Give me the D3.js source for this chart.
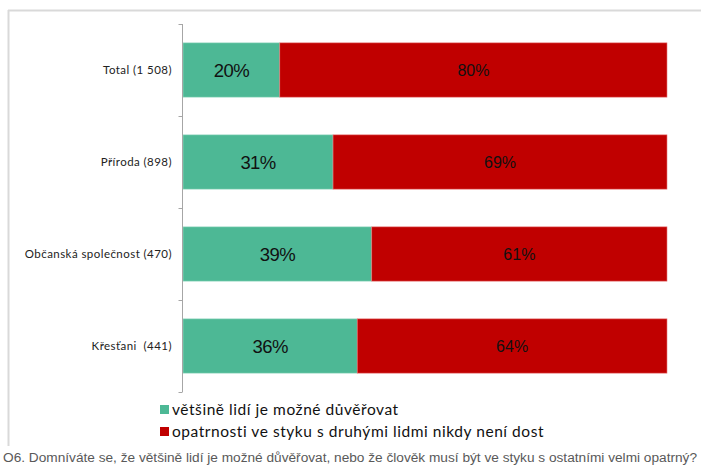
<!DOCTYPE html>
<html>
<head>
<meta charset="utf-8">
<script src="https://cdn.jsdelivr.net/npm/d3@7"></script>
<style>
  body { margin: 0; background: #fff; }
  svg { display: block; }
</style>
</head>
<body>
<div class="chart_box"></div>
<script>
var categories = ["Total (1 508)", "Příroda (898)", "Občanská společnost (470)", "Křesťani  (441)"];
var trustValues = [20, 31, 39, 36];
var cautionValues = [80, 69, 61, 64];
var seriesNames = ["většině lidí je možné důvěřovat", "opatrnosti ve styku s druhými lidmi nikdy není dost"];
var seriesColors = ["#4db895", "#c00000"];
var footnote = "O6. Domníváte se, že většině lidí je možné důvěřovat, nebo že člověk musí být ve styku s ostatními velmi opatrný?";

var width = 701, height = 469;
var svg = d3.select(".chart_box").append("svg")
  .attr("width", width)
  .attr("height", height);

// frame
svg.append("line").attr("x1", 8).attr("x2", width).attr("y1", 10.5).attr("y2", 10.5)
  .style("stroke", "#d9d9d9").style("stroke-width", 2);
svg.append("line").attr("x1", 8.5).attr("x2", 8.5).attr("y1", 10).attr("y2", 446)
  .style("stroke", "#d9d9d9").style("stroke-width", 2);

var x = d3.scaleLinear().domain([0, 100]).range([183, 667]);
var y = d3.scaleBand().domain(categories).range([24, 392]).paddingInner(0.41).paddingOuter(0.205);

var rows = categories.map(function(c, i) {
  return { cat: c, trust: trustValues[i], caution: cautionValues[i] };
});

var g = svg.append("g");

// green segments
g.selectAll(".trust").data(rows).enter().append("rect")
  .attr("class", "trust")
  .attr("x", x(0))
  .attr("y", function(d) { return y(d.cat); })
  .attr("width", function(d) { return x(d.trust) - x(0); })
  .attr("height", y.bandwidth())
  .attr("fill", seriesColors[0])
  .style("stroke", "#9fdcc6").style("stroke-width", 0.6);

// red segments
g.selectAll(".caution").data(rows).enter().append("rect")
  .attr("class", "caution")
  .attr("x", function(d) { return x(d.trust); })
  .attr("y", function(d) { return y(d.cat); })
  .attr("width", function(d) { return x(d.trust + d.caution) - x(d.trust); })
  .attr("height", y.bandwidth())
  .attr("fill", seriesColors[1])
  .style("stroke", "#e87878").style("stroke-width", 0.6);

// value labels
g.selectAll(".trustLabel").data(rows).enter().append("text")
  .attr("x", function(d) { return (x(0) + x(d.trust)) / 2; })
  .attr("y", function(d) { return y(d.cat) + y.bandwidth() / 2; })
  .attr("dy", "0.36em")
  .attr("text-anchor", "middle")
  .style("font-family", "Liberation Sans, Arial, sans-serif")
  .style("font-size", "18.5px")
  .style("letter-spacing", "-0.6px")
  .attr("fill", "#111")
  .text(function(d) { return d.trust + "%"; });

g.selectAll(".cautionLabel").data(rows).enter().append("text")
  .attr("x", function(d) { return (x(d.trust) + x(d.trust + d.caution)) / 2; })
  .attr("y", function(d) { return y(d.cat) + y.bandwidth() / 2; })
  .attr("dy", "0.36em")
  .attr("text-anchor", "middle")
  .style("font-family", "Liberation Sans, Arial, sans-serif")
  .style("font-size", "16px")
  .attr("fill", "#111")
  .text(function(d) { return d.caution + "%"; });

// category axis
var axisG = svg.append("g")
  .attr("transform", "translate(" + (x(0) - 0.5) + ",0)");
axisG.append("line")
  .attr("y1", y.range()[0]).attr("y2", y.range()[1])
  .style("stroke", "#a6a6a6");
var tickYs = categories.map(function(c) { return y(c) - y.step() * y.paddingInner() / 2; })
  .concat([y.range()[1]]);
axisG.selectAll(".tick").data(tickYs).enter().append("line")
  .attr("x1", -4).attr("x2", 0)
  .attr("y1", function(d) { return Math.round(d) + 0.5; })
  .attr("y2", function(d) { return Math.round(d) + 0.5; })
  .style("stroke", "#a6a6a6");

svg.selectAll(".catLabel").data(categories).enter().append("text")
  .attr("x", 172)
  .attr("y", function(d) { return y(d) + y.bandwidth() / 2; })
  .attr("dy", "0.35em")
  .attr("text-anchor", "end")
  .style("white-space", "pre")
  .style("font-family", "Lato, sans-serif")
  .style("font-size", "11.5px")
  .style("letter-spacing", "0.45px")
  .attr("fill", "#222")
  .text(function(d) { return d; });

// legend
var legend = svg.selectAll(".legend").data(seriesNames).enter().append("g")
  .attr("transform", function(d, i) { return "translate(160," + (410 + i * 22) + ")"; });
legend.append("rect")
  .attr("x", 0).attr("y", -5)
  .attr("width", 9).attr("height", 9)
  .attr("fill", function(d, i) { return seriesColors[i]; });
legend.append("text")
  .attr("x", 12).attr("y", 0)
  .attr("dy", "0.35em")
  .style("font-family", "Lato, sans-serif")
  .style("font-size", "15.5px")
  .style("letter-spacing", "0.55px")
  .attr("fill", "#111")
  .text(function(d) { return d; });

// footnote
svg.append("text")
  .attr("x", 3).attr("y", 462)
  .attr("textLength", 694)
  .attr("lengthAdjust", "spacingAndGlyphs")
  .style("font-family", "Liberation Sans, Arial, sans-serif")
  .style("font-size", "12px")
  .attr("fill", "#595959")
  .text(footnote);
</script>
</body>
</html>
